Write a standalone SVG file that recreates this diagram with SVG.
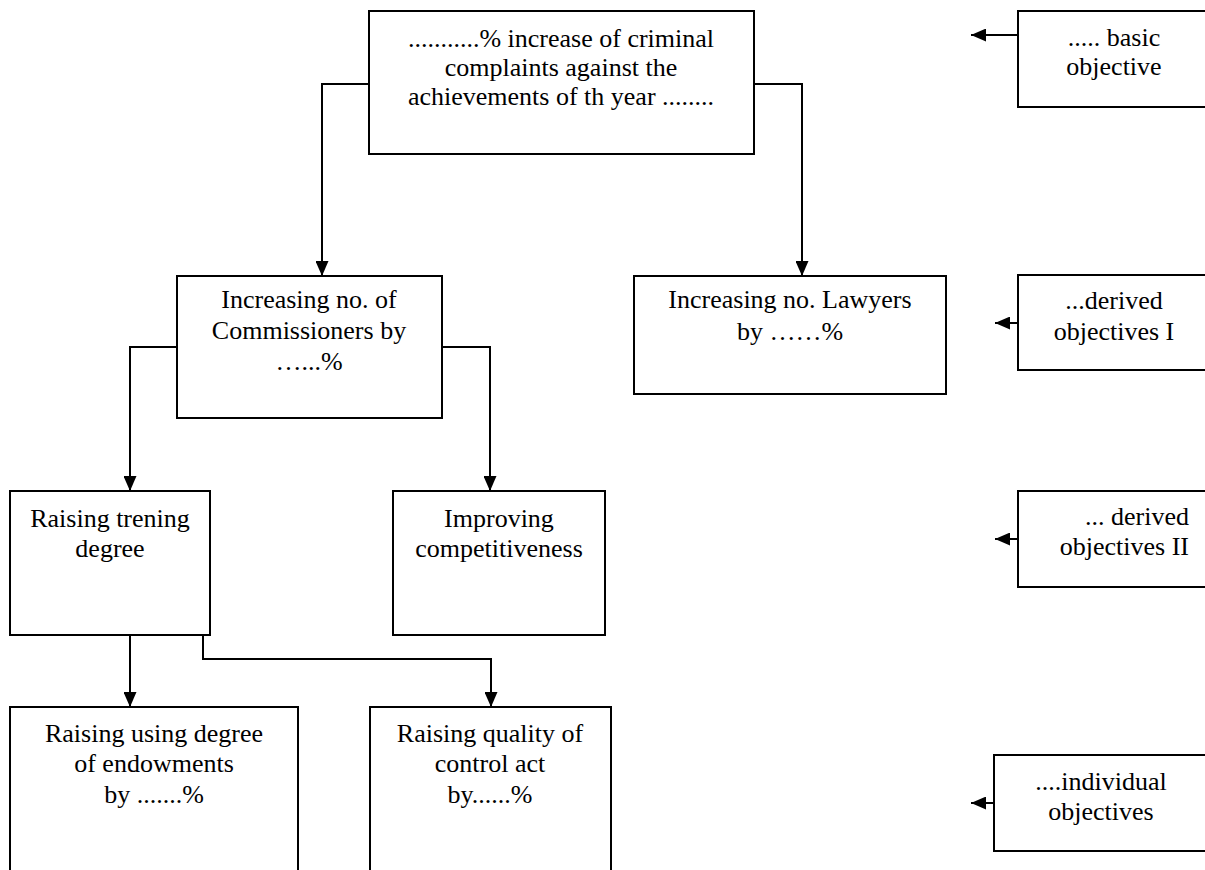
<svg xmlns="http://www.w3.org/2000/svg" width="1205" height="870" viewBox="0 0 1205 870">
<style>
.box{fill:#fff;stroke:#000;stroke-width:2}
.t{font-family:"Liberation Serif","Times New Roman",serif;font-size:26px;fill:#000;text-anchor:middle}
.c{fill:none;stroke:#000;stroke-width:2}
</style>
<defs>
<marker id="ah" markerUnits="userSpaceOnUse" markerWidth="16" markerHeight="13" refX="15" refY="6.5" orient="auto">
<path d="M0,0 L15,6.5 L0,13 z" fill="#000"/>
</marker>
</defs>
<rect width="1205" height="870" fill="#fff"/>
<g id="connectors">
<path class="c" d="M369,84 H322 V276" marker-end="url(#ah)"/>
<path class="c" d="M754,84 H802 V276" marker-end="url(#ah)"/>
<path class="c" d="M177,347 H130 V491" marker-end="url(#ah)"/>
<path class="c" d="M442,347 H490 V491" marker-end="url(#ah)"/>
<path class="c" d="M130,635 V707" marker-end="url(#ah)"/>
<path class="c" d="M203,635 V659 H491 V707" marker-end="url(#ah)"/>
<path class="c" d="M1018,35 H971" marker-end="url(#ah)"/>
<path class="c" d="M1018,323 H995" marker-end="url(#ah)"/>
<path class="c" d="M1018,539 H995" marker-end="url(#ah)"/>
<path class="c" d="M994,803 H971" marker-end="url(#ah)"/>
</g>
<g id="n-top">
<rect class="box" x="369" y="11" width="385" height="143"/>
<text class="t" x="561" y="47">...........% increase of criminal</text>
<text class="t" x="561" y="76">complaints against the</text>
<text class="t" x="561" y="105">achievements of th year ........</text>
</g>
<g id="n-comm">
<rect class="box" x="177" y="276" width="265" height="142"/>
<text class="t" x="309" y="308">Increasing no. of</text>
<text class="t" x="309" y="339">Commissioners by</text>
<text class="t" x="309" y="370">…...%</text>
</g>
<g id="n-lawyers">
<rect class="box" x="634" y="276" width="312" height="118"/>
<text class="t" x="790" y="308">Increasing no. Lawyers</text>
<text class="t" x="790" y="340">by ……%</text>
</g>
<g id="n-trening">
<rect class="box" x="10" y="491" width="200" height="144"/>
<text class="t" x="110" y="527">Raising trening</text>
<text class="t" x="110" y="557">degree</text>
</g>
<g id="n-improving">
<rect class="box" x="393" y="491" width="212" height="144"/>
<text class="t" x="499" y="527">Improving</text>
<text class="t" x="499" y="557">competitiveness</text>
</g>
<g id="n-endow">
<rect class="box" x="10" y="707" width="288" height="175"/>
<text class="t" x="154" y="742">Raising using degree</text>
<text class="t" x="154" y="772">of endowments</text>
<text class="t" x="154" y="803">by .......%</text>
</g>
<g id="n-quality">
<rect class="box" x="370" y="707" width="241" height="175"/>
<text class="t" x="490" y="742">Raising quality of</text>
<text class="t" x="490" y="772">control act</text>
<text class="t" x="490" y="803">by......%</text>
</g>
<g id="n-basic">
<rect class="box" x="1018" y="11" width="200" height="96"/>
<text class="t" x="1114" y="46">..... basic</text>
<text class="t" x="1114" y="75">objective</text>
</g>
<g id="n-derived1">
<rect class="box" x="1018" y="275" width="200" height="95"/>
<text class="t" x="1114" y="309">...derived</text>
<text class="t" x="1114" y="340">objectives I</text>
</g>
<g id="n-derived2">
<rect class="box" x="1018" y="491" width="200" height="96"/>
<text class="t" x="1189" y="525" style="text-anchor:end">... derived</text>
<text class="t" x="1189" y="555" style="text-anchor:end">objectives II</text>
</g>
<g id="n-individual">
<rect class="box" x="994" y="755" width="230" height="96"/>
<text class="t" x="1101" y="790">....individual</text>
<text class="t" x="1101" y="820">objectives</text>
</g>
</svg>
